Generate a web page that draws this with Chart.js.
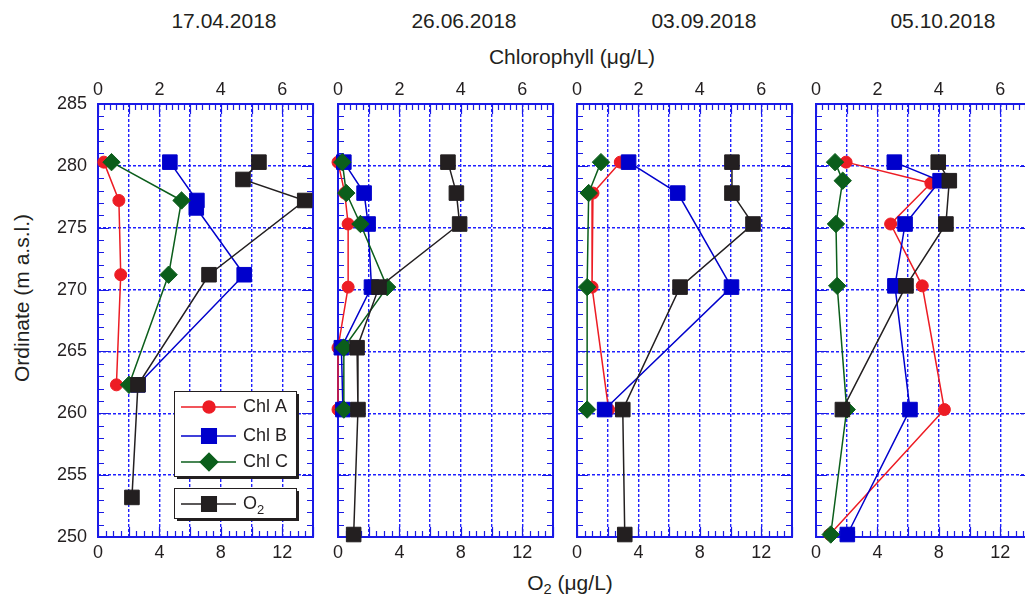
<!DOCTYPE html>
<html>
<head>
<meta charset="utf-8">
<script src="https://cdn.jsdelivr.net/npm/chart.js@4.4.1/dist/chart.umd.min.js"></script>
<style>
  html, body { margin: 0; padding: 0; background: #fff; overflow: hidden; width: 1025px; height: 597px; }
  body { position: relative; font-family: "Liberation Sans", Arial, sans-serif; color: #231f20; }
  canvas.panel { position: absolute; top: 60px; }
  .txt { position: absolute; white-space: nowrap; transform: translate(-50%, -50%); }
  .ylab { position: absolute; white-space: nowrap; transform: translate(-50%, -50%) rotate(-90deg); }
  sub { font-size: 70%; vertical-align: -0.3em; line-height: 0; }
</style>
</head>
<body>
<div class="txt" style="left:224px;top:21px;font-size:21px">17.04.2018</div>
<div class="txt" style="left:464px;top:21px;font-size:21px">26.06.2018</div>
<div class="txt" style="left:704px;top:21px;font-size:21px">03.09.2018</div>
<div class="txt" style="left:943px;top:21px;font-size:21px">05.10.2018</div>
<div class="txt" style="left:572px;top:57px;font-size:21px">Chlorophyll (μg/L)</div>
<div class="txt" style="left:570px;top:583px;font-size:21px">O<sub>2</sub> (μg/L)</div>
<div class="ylab" style="left:22px;top:298px;font-size:21px">Ordinate (m a.s.l.)</div>

<canvas class="panel" id="p0" width="287" height="520" style="left:38px"></canvas>
<canvas class="panel" id="p1" width="287" height="520" style="left:278px"></canvas>
<canvas class="panel" id="p2" width="287" height="520" style="left:517px"></canvas>
<canvas class="panel" id="p3" width="287" height="520" style="left:756px"></canvas>

<script>
// ---- data: [value, elevation] pairs, one list per sampling date ----
const dates = ['17.04.2018', '26.06.2018', '03.09.2018', '05.10.2018'];

// Chl A (µg/L, top axis)
const chlA = [
  [[0.19, 280.3], [0.68, 277.2], [0.74, 271.2], [0.60, 262.3]],
  [[0.0, 280.3], [0.22, 277.8], [0.33, 275.3], [0.33, 270.2], [0.0, 265.3], [0.0, 260.3]],
  [[1.41, 280.3], [0.52, 277.8], [0.49, 270.2], [1.03, 260.3]],
  [[0.98, 280.3], [3.74, 278.6], [2.43, 275.3], [3.46, 270.3], [4.18, 260.3], [0.45, 250.2]]
];

// Chl B
const chlB = [
  [[2.34, 280.3], [3.22, 277.2], [3.20, 276.6], [4.76, 271.2], [1.30, 262.3]],
  [[0.19, 280.3], [0.85, 277.8], [0.98, 275.3], [1.09, 270.2], [0.11, 265.3], [0.16, 260.3]],
  [[1.68, 280.3], [3.28, 277.8], [5.03, 270.2], [0.90, 260.3]],
  [[2.55, 280.3], [4.04, 278.8], [2.90, 275.3], [2.57, 270.3], [3.06, 260.3], [1.02, 250.2]]
];

// Chl C
const chlC = [
  [[0.44, 280.3], [2.72, 277.2], [2.30, 271.2], [1.01, 262.3]],
  [[0.14, 280.3], [0.27, 277.8], [0.73, 275.3], [1.60, 270.2], [0.19, 265.3], [0.19, 260.3]],
  [[0.78, 280.3], [0.38, 277.8], [0.33, 270.2], [0.33, 260.3]],
  [[0.62, 280.3], [0.87, 278.8], [0.65, 275.3], [0.69, 270.3], [1.00, 260.3], [0.48, 250.2]]
];

// O2 (µg/L, bottom axis)
const oxy = [
  [[10.48, 280.3], [9.44, 278.9], [13.46, 277.2], [7.23, 271.2], [2.60, 262.3], [2.21, 253.2]],
  [[7.16, 280.3], [7.71, 277.8], [7.92, 275.3], [2.67, 270.2], [1.24, 265.3], [1.30, 260.3], [1.02, 250.2]],
  [[10.09, 280.3], [10.09, 277.8], [11.46, 275.3], [6.71, 270.2], [2.98, 260.3], [3.11, 250.2]],
  [[7.96, 280.3], [8.68, 278.8], [8.46, 275.3], [5.86, 270.3], [1.72, 260.3]]
];

const o2Ticks = [0, 4, 8, 12];
const chlTicks = [0, 2, 4, 6];

// ---- styles ----
const BLUE = '#1a1ae6';
const GRID = '#2020ff';
const TXT = '#231f20';
const FONT = '"Liberation Sans", Arial, sans-serif';

const series = [
  { label: 'Chl A', data: chlA, color: '#ed1c24', style: 'circle', r: 6, axis: 'x2', order: 3 },
  { label: 'Chl B', data: chlB, color: '#0000cc', style: 'rect', r: 10.3, axis: 'x2', order: 2 },
  { label: 'Chl C', data: chlC, color: '#0b5e1b', style: 'rectRot', r: 8.7, axis: 'x2', order: 1 },
  { label: 'O2', data: oxy, color: TXT, style: 'rect', r: 10.3, axis: 'x', order: 0 }
];

// frame + inward ticks, drawn under the markers
const framePlugin = {
  id: 'frame',
  beforeDatasetsDraw(chart) {
    const { ctx, chartArea: a, scales } = chart;
    ctx.save();
    ctx.strokeStyle = BLUE;
    ctx.lineWidth = 1.2;
    ctx.beginPath();
    // bottom O2 ticks every 0.5
    for (let v = 0; v <= 14.001; v += 0.5) {
      const x = Math.round(scales.x.getPixelForValue(v)) + 0.5;
      const len = v % 2 === 0 ? 10 : 6;
      ctx.moveTo(x, a.bottom); ctx.lineTo(x, a.bottom - len);
    }
    // top chl ticks every 0.2
    for (let i = 0; i <= 35; i++) {
      const x = Math.round(scales.x2.getPixelForValue(i / 5)) + 0.5;
      const len = i % 5 === 0 ? 10 : 6;
      ctx.moveTo(x, a.top); ctx.lineTo(x, a.top + len);
    }
    // left / right elevation ticks every 1 m
    for (let v = 250; v <= 285; v++) {
      const y = Math.round(scales.y.getPixelForValue(v)) + 0.5;
      const len = v % 5 === 0 ? 11 : 6;
      ctx.moveTo(a.left, y); ctx.lineTo(a.left + len, y);
      ctx.moveTo(a.right, y); ctx.lineTo(a.right - len, y);
    }
    ctx.stroke();
    ctx.lineWidth = 2;
    ctx.strokeRect(a.left, a.top, a.right - a.left, a.bottom - a.top);
    ctx.restore();
  }
};

function marker(ctx, s, x, y) {
  ctx.fillStyle = s.color;
  ctx.strokeStyle = s.color;
  Chart.helpers.drawPoint(ctx, { pointStyle: s.style, radius: s.r, rotation: 0, borderWidth: 1 }, x, y);
}

// legend boxes in the first panel
const legendPlugin = {
  id: 'boxLegend',
  afterDatasetsDraw(chart) {
    const ctx = chart.ctx;
    const boxes = [
      { x: 174, y: 391, w: 122, h: 85, rows: [0, 1, 2], ys: [407, 436, 462] },
      { x: 174, y: 488, w: 122, h: 30, rows: [3], ys: [504] }
    ];
    ctx.save();
    ctx.translate(-38, -60); // page coords -> canvas coords
    boxes.forEach(b => {
      ctx.fillStyle = TXT;
      ctx.fillRect(b.x + 3, b.y + 3, b.w, b.h);
      ctx.fillStyle = '#fff';
      ctx.fillRect(b.x, b.y, b.w, b.h);
      ctx.strokeStyle = TXT;
      ctx.lineWidth = 1;
      ctx.strokeRect(b.x + 0.5, b.y + 0.5, b.w, b.h);
      b.rows.forEach((k, j) => {
        const s = series[k];
        const y = b.ys[j];
        ctx.strokeStyle = s.color;
        ctx.lineWidth = 1.5;
        ctx.beginPath();
        ctx.moveTo(181, y); ctx.lineTo(236, y);
        ctx.stroke();
        marker(ctx, s, 209, y);
        ctx.fillStyle = TXT;
        ctx.font = '18px ' + FONT;
        ctx.textBaseline = 'middle';
        ctx.textAlign = 'left';
        if (s.label === 'O2') {
          ctx.fillText('O', 243, y);
          const w = ctx.measureText('O').width;
          ctx.font = '13px ' + FONT;
          ctx.fillText('2', 243 + w, y + 6);
        } else {
          ctx.fillText(s.label, 243, y);
        }
      });
    });
    ctx.restore();
  }
};

function makePanel(i) {
  const datasets = series.map(s => ({
    label: s.label,
    data: s.data[i].map(p => ({ x: p[0], y: p[1] })),
    xAxisID: s.axis,
    yAxisID: 'y',
    showLine: true,
    borderColor: s.color,
    backgroundColor: s.color,
    borderWidth: 1.5,
    pointStyle: s.style,
    pointRadius: s.r,
    pointBorderWidth: 1,
    pointBorderColor: s.color,
    pointBackgroundColor: s.color,
    pointHoverRadius: s.r,
    order: s.order,
    clip: false,
    tension: 0
  }));

  new Chart(document.getElementById('p' + i), {
    type: 'scatter',
    data: { datasets },
    options: {
      responsive: false,
      animation: false,
      layout: { padding: { right: 12, left: 0, top: 0, bottom: 0 } },
      plugins: { legend: { display: false }, tooltip: { enabled: false } },
      scales: {
        x: {
          type: 'linear', position: 'bottom', min: 0, max: 14,
          ticks: {
            stepSize: 2, autoSkip: false, maxRotation: 0, padding: 5,
            color: TXT, font: { size: 18, family: FONT },
            callback: v => o2Ticks.includes(v) ? String(v) : ''
          },
          grid: { color: GRID, lineWidth: 1.4, drawTicks: false, borderDash: [3, 2] },
          border: { display: false, dash: [3, 2] },
          afterFit: s => { s.height = 43; }
        },
        x2: {
          type: 'linear', position: 'top', min: 0, max: 7,
          ticks: {
            stepSize: 1, autoSkip: false, maxRotation: 0, padding: 3,
            color: TXT, font: { size: 18, family: FONT },
            callback: v => chlTicks.includes(v) ? String(v) : ''
          },
          grid: { display: false, drawTicks: false },
          border: { display: false },
          afterFit: s => { s.height = 44; }
        },
        y: {
          type: 'linear', position: 'left', min: 250, max: 285,
          ticks: {
            stepSize: 5, display: i === 0, padding: 11,
            color: TXT, font: { size: 18, family: FONT }
          },
          grid: { color: GRID, lineWidth: 1.4, drawTicks: false, borderDash: [3, 2] },
          border: { display: false, dash: [3, 2] },
          afterFit: s => { s.width = 60; }
        }
      }
    },
    plugins: i === 0 ? [framePlugin, legendPlugin] : [framePlugin]
  });
}

dates.forEach((d, i) => makePanel(i));
</script>
</body>
</html>
